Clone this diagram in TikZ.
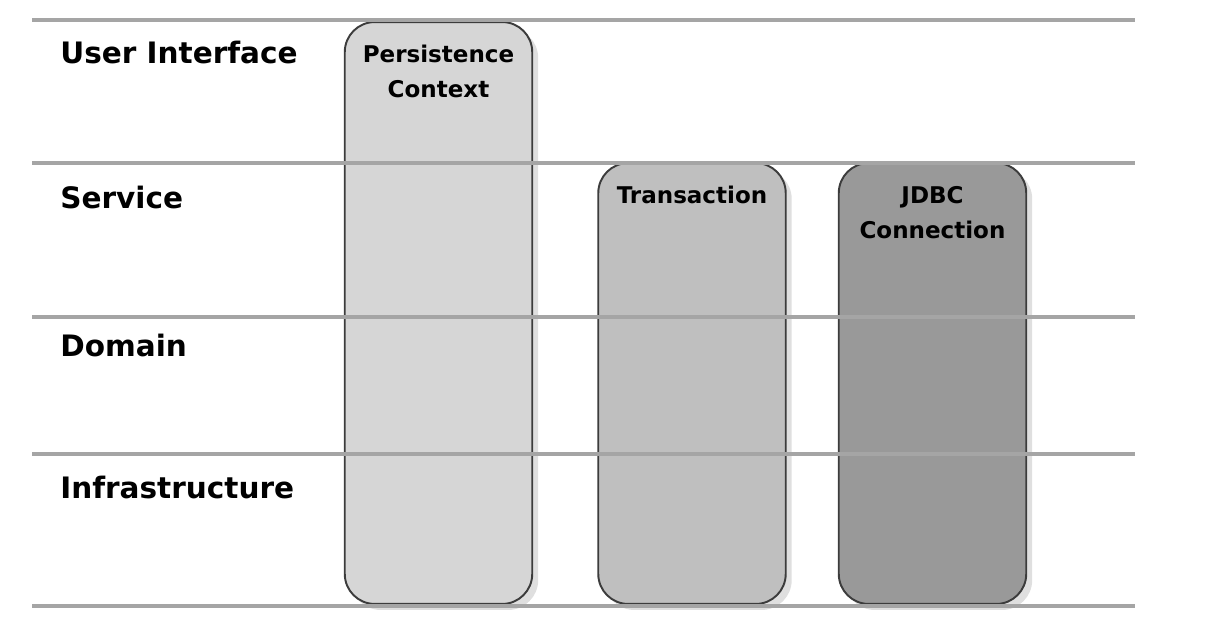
\documentclass[tikz,border=0pt]{standalone}
\usepackage{fontspec}
\setsansfont{DejaVu Sans}
\usetikzlibrary{positioning,shadows}
\definecolor{lyLine}{RGB}{165,165,165}
\definecolor{lyEdge}{RGB}{60,60,60}
\definecolor{lyLight}{RGB}{214,214,214}
\definecolor{lyMid}{RGB}{191,191,191}
\definecolor{lyDark}{RGB}{153,153,153}
\tikzset{
    base/.style={font=\sffamily\bfseries, align=center},
    layer/.style={base, font=\sffamily\bfseries\fontsize{16.8}{20}\selectfont, anchor=west, inner sep=0pt},
    scopebox/.style={rectangle, rounded corners=6mm, draw=lyEdge, line width=1.1pt,
                     minimum width=3.75cm, inner sep=0pt,
                     drop shadow={opacity=0.25, shadow xshift=1.2mm, shadow yshift=-1.2mm}},
    boxtitle/.style={base, font=\sffamily\bfseries\fontsize{13.1}{19.8}\selectfont, inner sep=0pt},
    divider/.style={lyLine, line width=2.2pt}
}
\begin{document}
\begin{tikzpicture}[x=0.02cm, y=-0.02cm]
  \useasboundingbox (0,0) rectangle (1228,642);

  % Scope boxes
  \node[scopebox, fill=lyLight, minimum height=11.64cm] (pc) at (438.5,313) {};
  \node[scopebox, fill=lyMid, minimum height=8.82cm] (tx) at (692,383.5) {};
  \node[scopebox, fill=lyDark, minimum height=8.82cm] (jdbc) at (932.5,383.5) {};

  % Box titles
  \node[boxtitle, below=0.48cm of pc.north] (pcTitle) {Persistence\\Context};
  \node[boxtitle, below=0.48cm of tx.north] (txTitle) {Transaction};
  \node[boxtitle, below=0.48cm of jdbc.north] (jdbcTitle) {JDBC\\Connection};

  % Layer dividers
  \foreach \y/\name in {20/d0,163/d1,317/d2,454/d3,606/d4} {
    \coordinate (\name w) at (32,\y);
    \coordinate (\name e) at (1135,\y);
    \draw[divider] (\name w) -- (\name e);
  }

  % Layer names
  \node[layer] (ui) at (60,52) {User Interface};
  \node[layer] (svc) at (60,197) {Service};
  \node[layer] (dom) at (60,345) {Domain};
  \node[layer] (infra) at (60,487) {Infrastructure};
\end{tikzpicture}
\end{document}
